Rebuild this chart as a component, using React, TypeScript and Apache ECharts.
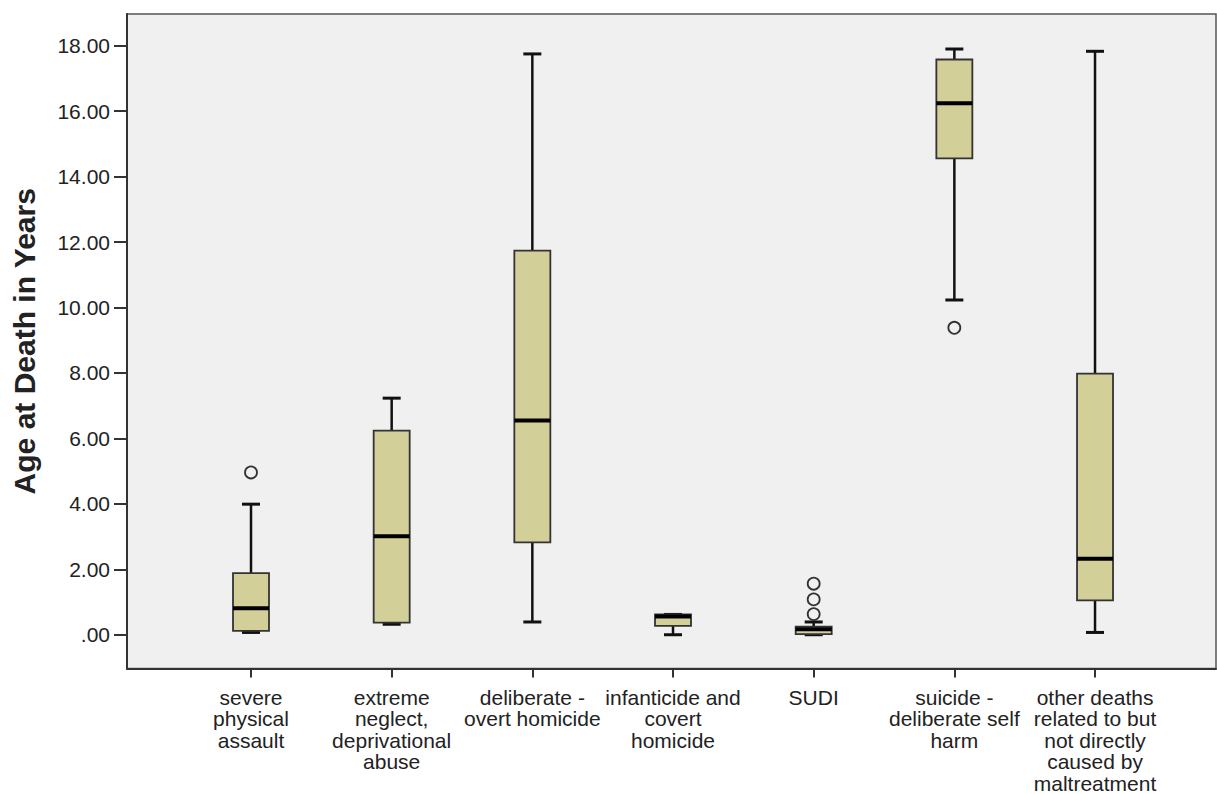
import React, { useEffect, useRef } from "react";
import * as echarts from "echarts";

const xLabels = [
  "severe\nphysical\nassault",
  "extreme\nneglect,\ndeprivational\nabuse",
  "deliberate -\novert homicide",
  "infanticide and\ncovert\nhomicide",
  "SUDI",
  "suicide -\ndeliberate self\nharm",
  "other deaths\nrelated to but\nnot directly\ncaused by\nmaltreatment",
];
const whiskerLow = [0.07, 0.32, 0.39, 0.0, 0.0, 10.23, 0.07];
const quartile1 = [0.12, 0.37, 2.82, 0.27, 0.02, 14.56, 1.05];
const medians = [0.81, 3.01, 6.55, 0.56, 0.17, 16.24, 2.32];
const quartile3 = [1.88, 6.24, 11.74, 0.62, 0.25, 17.58, 7.98];
const whiskerHigh = [3.99, 7.23, 17.75, 0.62, 0.39, 17.9, 17.83];
const outlierCategory = [0, 4, 4, 4, 5];
const outlierValues = [4.96, 0.63, 1.08, 1.56, 9.38];
const yTickValues = [0, 2, 4, 6, 8, 10, 12, 14, 16, 18];
const yTickLabels = [".00", "2.00", "4.00", "6.00", "8.00", "10.00", "12.00", "14.00", "16.00", "18.00"];

const FONT = "'Liberation Sans', Arial, sans-serif";

export default function App() {
  const ref = useRef<HTMLDivElement>(null);
  useEffect(() => {
    if (!ref.current) return;
    const chart = echarts.init(ref.current, null, { renderer: "svg" });
    const boxData = xLabels.map((_, i) => [
      i,
      whiskerLow[i],
      quartile1[i],
      medians[i],
      quartile3[i],
      whiskerHigh[i],
    ]);
    const outlierData = outlierCategory.map((c, i) => [c, outlierValues[i]]);
    const xIdx = xLabels.map((_, i) => i);
    chart.setOption({
      animation: false,
      backgroundColor: "#ffffff",
      grid: {
        left: 127,
        top: 14,
        width: 1089,
        height: 659,
        show: true,
        backgroundColor: "#f0f0f0",
        borderColor: "#555",
        borderWidth: 1.5,
      },
      xAxis: {
        type: "value",
        min: -0.8815,
        max: 6.86,
        splitLine: { show: false },
        axisLine: { show: true, onZero: false, lineStyle: { color: "#333", width: 2 } },
        axisTick: { show: true, length: 9, customValues: xIdx, lineStyle: { color: "#333", width: 2 } },
        axisLabel: {
          customValues: xIdx,
          formatter: (v: number) => xLabels[Math.round(v)] ?? "",
          margin: 18,
          fontSize: 21,
          lineHeight: 21.5,
          color: "#222",
          fontFamily: FONT,
          align: "center",
          verticalAlign: "top",
        },
      },
      yAxis: {
        type: "value",
        min: -1.032,
        max: 18.97,
        name: "Age at Death in Years",
        nameLocation: "middle",
        nameRotate: 90,
        nameGap: 88,
        nameTextStyle: { fontSize: 30, fontWeight: "bold", color: "#222", fontFamily: FONT },
        splitLine: { show: false },
        axisLine: { show: true, onZero: false, lineStyle: { color: "#333", width: 2 } },
        axisTick: { show: true, length: 13, customValues: yTickValues, lineStyle: { color: "#333", width: 2 } },
        axisLabel: {
          customValues: yTickValues,
          formatter: (v: number) => yTickLabels[yTickValues.indexOf(Math.round(v))] ?? "",
          margin: 17,
          fontSize: 21,
          color: "#222",
          fontFamily: FONT,
        },
      },
      series: [
        {
          type: "custom",
          data: boxData,
          encode: { x: 0, y: [1, 2, 3, 4, 5] },
          renderItem: (params: any, api: any) => {
            const x = api.value(0);
            const lo = api.coord([x, api.value(1)]);
            const q1 = api.coord([x, api.value(2)]);
            const md = api.coord([x, api.value(3)]);
            const q3 = api.coord([x, api.value(4)]);
            const hi = api.coord([x, api.value(5)]);
            const cx = lo[0];
            const bw = 36;
            const cw = 18;
            const lineStyle = { stroke: "#111", lineWidth: 2.5 };
            return {
              type: "group",
              children: [
                { type: "line", shape: { x1: cx, y1: hi[1], x2: cx, y2: q3[1] }, style: lineStyle },
                { type: "line", shape: { x1: cx, y1: q1[1], x2: cx, y2: lo[1] }, style: lineStyle },
                { type: "line", shape: { x1: cx - cw / 2, y1: hi[1], x2: cx + cw / 2, y2: hi[1] }, style: { stroke: "#111", lineWidth: 3 } },
                { type: "line", shape: { x1: cx - cw / 2, y1: lo[1], x2: cx + cw / 2, y2: lo[1] }, style: { stroke: "#111", lineWidth: 3 } },
                {
                  type: "rect",
                  shape: { x: cx - bw / 2, y: q3[1], width: bw, height: q1[1] - q3[1] },
                  style: { fill: "#d3cf98", stroke: "#333", lineWidth: 1.8 },
                },
                { type: "line", shape: { x1: cx - bw / 2, y1: md[1], x2: cx + bw / 2, y2: md[1] }, style: { stroke: "#000", lineWidth: 4 } },
              ],
            };
          },
        },
        {
          type: "scatter",
          data: outlierData,
          symbol: "circle",
          symbolSize: 12,
          itemStyle: { color: "#f0f0f0", borderColor: "#333", borderWidth: 1.8, opacity: 1 },
        },
      ],
    });
    return () => chart.dispose();
  }, []);
  return (
    <div
      ref={ref}
      style={{ position: "fixed", left: 0, top: 0, width: 1217, height: 794, background: "#fff" }}
    />
  );
}
